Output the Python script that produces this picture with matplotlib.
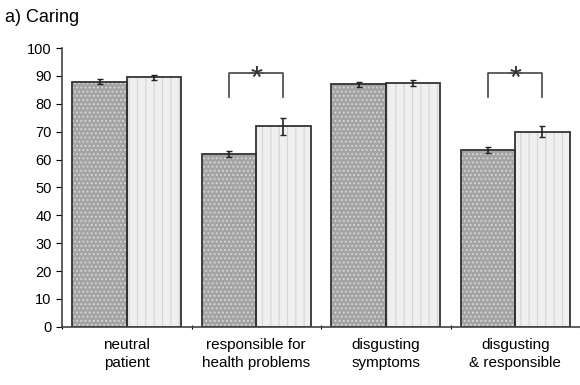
import numpy as np
import matplotlib
matplotlib.use("Agg")
from matplotlib import pyplot as plt

plt.rcParams['font.family'] = ['Liberation Sans', 'DejaVu Sans']
plt.rcParams['hatch.linewidth'] = 0.8

categories = ["neutral\npatient", "responsible for\nhealth problems",
              "disgusting\nsymptoms", "disgusting\n& responsible"]
dark_vals = [88.0, 62.0, 87.0, 63.5]
dark_err = [1.0, 1.2, 0.8, 1.2]
light_vals = [89.5, 72.0, 87.5, 70.0]
light_err = [1.0, 3.0, 1.0, 2.0]
sig_groups = [1, 3]

fig = plt.figure(figsize=(5.8, 3.85), dpi=100)
ax = fig.add_axes([0.107, 0.151, 0.893, 0.724])

x = np.arange(len(categories)) + 0.5
w = 0.42

# fill with light hatching, then outline and error bars on top
ax.bar(x - w / 2, dark_vals, w, color='#a4a4a4', edgecolor='#d8d8d8',
       linewidth=0, hatch='....')
ax.bar(x + w / 2, light_vals, w, color='#efefef', edgecolor='#d4d4d4',
       linewidth=0, hatch='||')
err_style = dict(ecolor='#222222', elinewidth=1.2, capsize=2.5)
ax.bar(x - w / 2, dark_vals, w, yerr=dark_err, fill=False,
       edgecolor='#333333', linewidth=1.3, error_kw=err_style)
ax.bar(x + w / 2, light_vals, w, yerr=light_err, fill=False,
       edgecolor='#333333', linewidth=1.3, error_kw=err_style)

for g in sig_groups:
    xl = x[g] - w / 2
    xr = x[g] + w / 2
    ax.plot([xl, xl, xl + 0.26], [82.5, 91, 91], color='#555555', lw=1.3)
    ax.plot([xr - 0.26, xr, xr], [91, 91, 82.5], color='#555555', lw=1.3)
    ax.text(x[g], 88.5, '*', ha='center', va='center', fontsize=22,
            color='#333333')

ax.set_xlim(0, 4)
ax.set_ylim(0, 100)
ax.set_yticks(range(0, 101, 10))
ax.set_xticks(range(0, 5))
ax.set_xticklabels([])
ax.set_xticks(x, minor=True)
ax.set_xticklabels(categories, minor=True, fontsize=11, linespacing=1.35)
ax.tick_params(axis='x', which='minor', length=0, pad=8)
ax.tick_params(axis='x', which='major', length=3, direction='inout')
ax.tick_params(axis='y', labelsize=10.5, length=4)

ax.spines['right'].set_color('none')
ax.spines['top'].set_color('none')
for s in ['left', 'bottom']:
    ax.spines[s].set_color('#444444')
    ax.spines[s].set_linewidth(1.2)

fig.text(0.008, 0.955, 'a) Caring', fontsize=13, ha='left', va='center')

plt.savefig("out.png", dpi=100)
